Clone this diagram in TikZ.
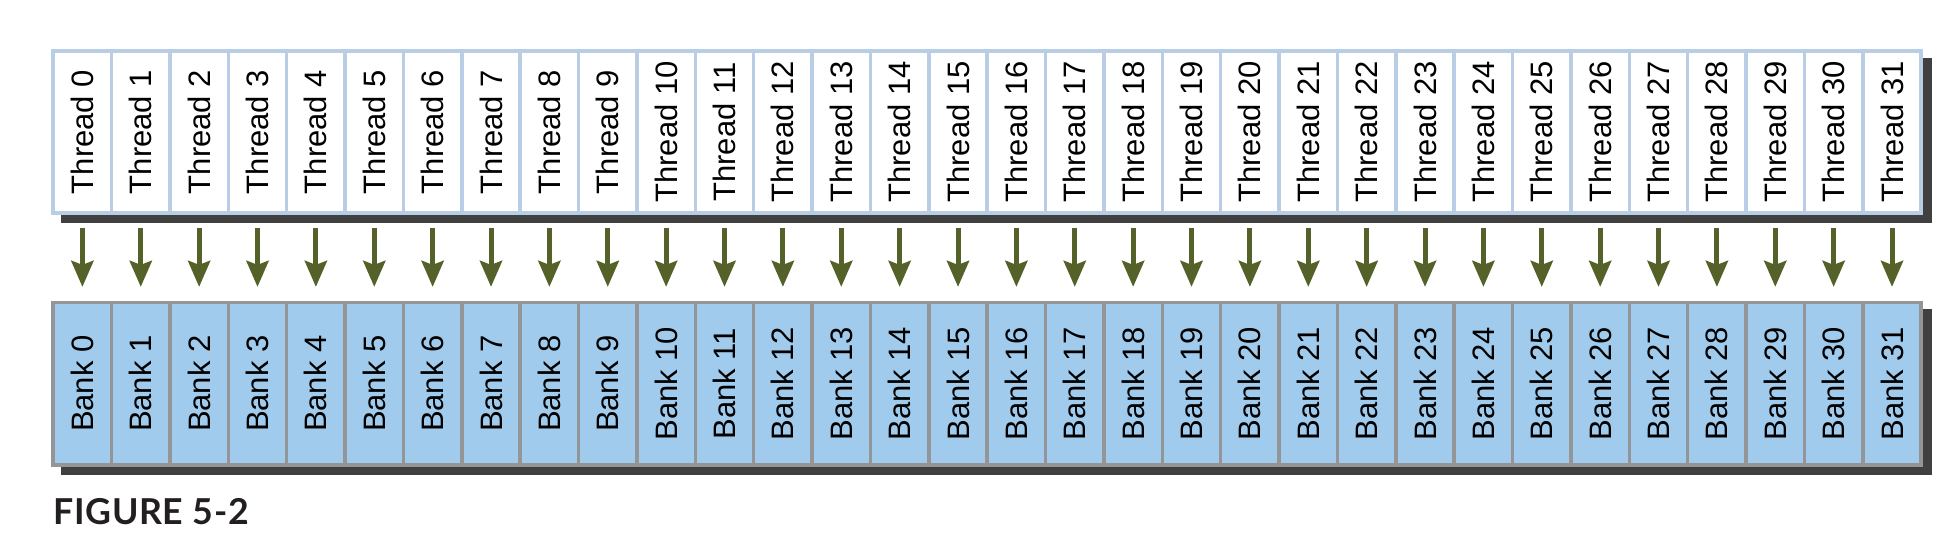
\documentclass[tikz,border=0pt]{standalone}
\usepackage{fontspec}
\setmainfont{Liberation Sans}
\newfontfamily\figfont[LetterSpace=2]{Lato}
\usepackage{graphicx}
\usetikzlibrary{arrows.meta,backgrounds}
\definecolor{threadline}{RGB}{185, 205, 229}
\definecolor{bankfill}{RGB}{160, 203, 236}
\definecolor{bankline}{RGB}{147, 149, 151}
\definecolor{shadowgray}{RGB}{64, 64, 64}
\definecolor{arrowgreen}{RGB}{84, 98, 41}
\definecolor{captiondark}{RGB}{35, 31, 32}

\tikzset{
  cell/.style={minimum width=58.375pt, minimum height=162.4pt, inner sep=0pt,
    outer sep=0pt, line width=3.5pt, font=\fontsize{31}{36}\selectfont},
  threadbox/.style={cell, draw=threadline, fill=white},
  bankbox/.style={cell, draw=bankline, fill=bankfill},
  maparrow/.style={draw=arrowgreen, line width=5pt, shorten <=14.9pt, shorten >=15.6pt,
    -{Stealth[length=26pt, width=22pt, inset=4pt, fill=arrowgreen]}}
}

\begin{document}
\begin{tikzpicture}[x=1pt, y=1pt]
            \useasboundingbox (0,0) rectangle (1957,552);
            % Threads and banks
            \foreach \i in {0,...,31} {
              \node[threadbox] (thread\i) at ({53.2+58.375*(\i+0.5)},420) {\rotatebox{90}{Thread \i}};
              \node[bankbox] (bank\i) at ({53.2+58.375*(\i+0.5)},168.3) {\rotatebox{90}{Bank \i}};
            }
            
            % Drop shadows
            \begin{scope}[on background layer]
              \fill[shadowgray] ([shift={(7.5pt,-7pt)}]thread0.north west) rectangle ([shift={(10.5pt,-10pt)}]thread31.south east);
              \fill[shadowgray] ([shift={(7.5pt,-7pt)}]bank0.north west) rectangle ([shift={(10.5pt,-10pt)}]bank31.south east);
            \end{scope}
            
            % One thread per bank
            \foreach \i in {0,...,31} {
              \draw[maparrow] (thread\i) -- (bank\i);
            }
            
            % Caption
            \node[anchor=base west, inner sep=0pt, text=captiondark, font=\figfont\bfseries\fontsize{35.7}{40}\selectfont] (caption) at (53,27.4) {FIGURE 5-2};
\end{tikzpicture}
\end{document}
